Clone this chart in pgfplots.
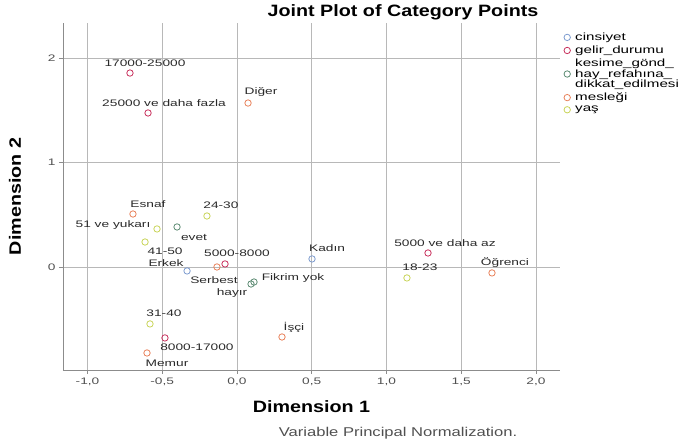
\documentclass[border=0pt]{standalone}
\usepackage{pgfplots}
\pgfplotsset{compat=1.18}
\usepackage{fontspec}
\setmainfont{Liberation Sans}[FakeStretch=1.45]
\newfontfamily\headfont{Liberation Sans}[FakeStretch=1.2]
\newfontfamily\notefont{Liberation Sans}[FakeStretch=1.3]

\definecolor{cins}{HTML}{7E9CCF}
\definecolor{gelir}{HTML}{C8325E}
\definecolor{kes}{HTML}{5E8C74}
\definecolor{meslek}{HTML}{E8825C}
\definecolor{yas}{HTML}{C9D45A}
\definecolor{gridc}{HTML}{B8B8B8}
\definecolor{axc}{HTML}{8C8C8C}
\definecolor{tickc}{HTML}{505050}
\definecolor{labc}{HTML}{2A2A2A}

\pgfplotsset{
  catpts/.style={
    only marks, mark=o, mark size=3.2bp,
    mark options={line width=0.8bp, draw=#1},
    nodes near coords, point meta=explicit symbolic,
    visualization depends on={value \thisrow{dx}\as\dx},
    visualization depends on={value \thisrow{dy}\as\dy},
    every node near coord/.append style={anchor=center, xshift=\dx bp, yshift=\dy bp,
      font=\fontsize{9.5}{10}\selectfont, text=labc, inner sep=0pt},
  },
}

\begin{document}
\begin{tikzpicture}[x=1bp,y=1bp]
% the plot area runs from (0,0) to (497,347); the page adds the margins round it
\useasboundingbox (-63,-78) rectangle (630,370);
\begin{axis}[
  scale only axis,
  width=497bp, height=347bp,
  xmin=-1.164, xmax=2.161, ymin=-0.986, ymax=2.335,
  xtick={-1,-0.5,0,0.5,1,1.5,2}, ytick={-1,0,1,2},
  xticklabel style={/pgf/number format/.cd, fixed, fixed zerofill, precision=1, use comma},
  yticklabel style={/pgf/number format/.cd, fixed, precision=0},
  /pgf/number format/assume math mode=true,
  ticklabel style={font=\fontsize{9.5}{10}\selectfont, text=tickc},
  axis x line*=bottom, axis y line*=left,
  axis line style={axc, line width=0.8bp},
  tick align=outside, major tick length=4bp,
  tick style={axc, line width=0.7bp},
  grid=major, major grid style={gridc, line width=0.7bp},
  xlabel={Dimension 1}, ylabel={Dimension 2},
  xlabel style={at={(axis description cs:0.5,0)}, anchor=center, yshift=-37bp,
    font=\headfont\bfseries\fontsize{16.5}{18}\selectfont},
  ylabel style={at={(axis description cs:0,0.5)}, anchor=center, yshift=48bp,
    font=\headfont\bfseries\fontsize{16.5}{18}\selectfont},
  clip=false,
  legend style={at={(1.0,0.975)}, anchor=north west, draw=none, fill=none,
    font=\fontsize{10.5}{10.5}\selectfont, row sep=2bp,
    cells={anchor=west, align=left}, inner sep=0bp,
    nodes={inner sep=1bp}},
  legend image code/.code={\path[draw=none, fill=none] (0bp,-0.5bp) rectangle (14bp,0.5bp);
    \draw[#1] plot coordinates {(7bp,0bp)};},
]
\addplot[catpts=cins] table[col sep=comma, meta=label] {
x,y,dx,dy,label
-0.334,-0.038,-21,8,Erkek
0.502,0.077,15,11,Kadın
};
\addlegendentry{cinsiyet}
\addplot[catpts=gelir] table[col sep=comma, meta=label] {
x,y,dx,dy,label
-0.716,1.856,15,10,17000-25000
-0.595,1.474,16,10,25000 ve daha fazla
-0.080,0.029,12,11,5000-8000
-0.482,-0.679,32,-9,8000-17000
1.278,0.134,17,10,5000 ve daha az
};
\addlegendentry{gelir\_durumu}
\addplot[catpts=kes] table[col sep=comma, meta=label] {
x,y,dx,dy,label
-0.401,0.383,17,-11,evet
0.094,-0.163,-19,-9,hayır
0.114,-0.144,39,4,Fikrim yok
};
\addlegendentry{kesime\_gönd\_\\hay\_refahına\_\\dikkat\_edilmesi}
\addplot[catpts=meslek] table[col sep=comma, meta=label] {
x,y,dx,dy,label
0.074,1.569,13,11,Diğer
-0.696,0.507,15,10,Esnaf
-0.134,0.000,-3,-13,Serbest
0.301,-0.670,12,10,İşçi
-0.602,-0.823,20,-10,Memur
1.706,-0.057,13,10,Öğrenci
};
\addlegendentry{mesleği}
\addplot[catpts=yas] table[col sep=comma, meta=label] {
x,y,dx,dy,label
-0.201,0.488,14,11,24-30
-0.535,0.364,-44,4,51 ve yukarı
-0.615,0.239,20,-9,41-50
-0.582,-0.545,14,11,31-40
1.137,-0.105,13,11,18-23
};
\addlegendentry{yaş}
\end{axis}
\node[font=\headfont\bfseries\fontsize{16.5}{18}\selectfont] at (340,358) {Joint Plot of Category Points};
\node[font=\notefont\fontsize{12.8}{14}\selectfont, text=tickc] at (335,-63) {Variable Principal Normalization.};
\end{tikzpicture}
\end{document}
